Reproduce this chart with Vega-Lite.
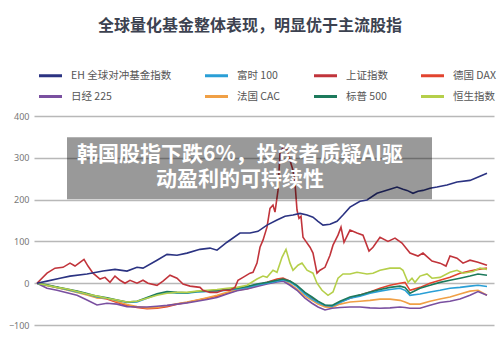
{
  "$schema": "https://vega.github.io/schema/vega-lite/v6.json",
  "width": 460,
  "height": 209,
  "autosize": {"type": "none"},
  "padding": {"left": 34, "top": 116, "right": 6, "bottom": 12},
  "background": "white",
  "title": {
    "text": "全球量化基金整体表现，明显优于主流股指",
    "font": "Noto Sans CJK SC",
    "fontSize": 16,
    "fontWeight": "bold",
    "color": "#3c4250",
    "anchor": "middle",
    "baseline": "bottom",
    "offset": 12,
    "dx": -14
  },
  "config": {"view": {"stroke": null}},
  "datasets": {
    "series": [
      {"s":"德国 DAX","t":0,"v":0},{"s":"德国 DAX","t":10,"v":-5},{"s":"德国 DAX","t":20,"v":-10},{"s":"德国 DAX","t":30,"v":-15},{"s":"德国 DAX","t":40,"v":-20},{"s":"德国 DAX","t":50,"v":-26},{"s":"德国 DAX","t":60,"v":-34},{"s":"德国 DAX","t":70,"v":-38},{"s":"德国 DAX","t":80,"v":-46},{"s":"德国 DAX","t":90,"v":-53},{"s":"德国 DAX","t":100,"v":-58},{"s":"德国 DAX","t":110,"v":-61},{"s":"德国 DAX","t":120,"v":-60},{"s":"德国 DAX","t":130,"v":-56},{"s":"德国 DAX","t":140,"v":-50},{"s":"德国 DAX","t":150,"v":-46},{"s":"德国 DAX","t":160,"v":-41},{"s":"德国 DAX","t":170,"v":-36},{"s":"德国 DAX","t":180,"v":-31},{"s":"德国 DAX","t":190,"v":-24},{"s":"德国 DAX","t":200,"v":-17},{"s":"德国 DAX","t":210,"v":-12},{"s":"德国 DAX","t":220,"v":-5},{"s":"德国 DAX","t":230,"v":2},{"s":"德国 DAX","t":240,"v":10},{"s":"德国 DAX","t":246,"v":12},{"s":"德国 DAX","t":253,"v":5},{"s":"德国 DAX","t":260,"v":-7},{"s":"德国 DAX","t":268,"v":-24},{"s":"德国 DAX","t":275,"v":-36},{"s":"德国 DAX","t":281,"v":-45},{"s":"德国 DAX","t":288,"v":-55},{"s":"德国 DAX","t":295,"v":-57},{"s":"德国 DAX","t":303,"v":-45},{"s":"德国 DAX","t":313,"v":-36},{"s":"德国 DAX","t":323,"v":-28},{"s":"德国 DAX","t":333,"v":-21},{"s":"德国 DAX","t":343,"v":-12},{"s":"德国 DAX","t":353,"v":-5},{"s":"德国 DAX","t":363,"v":0},{"s":"德国 DAX","t":368,"v":2},{"s":"德国 DAX","t":373,"v":-17},{"s":"德国 DAX","t":383,"v":-10},{"s":"德国 DAX","t":393,"v":0},{"s":"德国 DAX","t":403,"v":7},{"s":"德国 DAX","t":413,"v":14},{"s":"德国 DAX","t":423,"v":24},{"s":"德国 DAX","t":433,"v":29},{"s":"德国 DAX","t":441,"v":33},{"s":"德国 DAX","t":450,"v":36},

      {"s":"法国 CAC","t":0,"v":0},{"s":"法国 CAC","t":10,"v":-6},{"s":"法国 CAC","t":20,"v":-11},{"s":"法国 CAC","t":30,"v":-16},{"s":"法国 CAC","t":40,"v":-22},{"s":"法国 CAC","t":50,"v":-28},{"s":"法国 CAC","t":60,"v":-35},{"s":"法国 CAC","t":70,"v":-36},{"s":"法国 CAC","t":80,"v":-44},{"s":"法国 CAC","t":90,"v":-51},{"s":"法国 CAC","t":100,"v":-56},{"s":"法国 CAC","t":110,"v":-59},{"s":"法国 CAC","t":120,"v":-58},{"s":"法国 CAC","t":130,"v":-54},{"s":"法国 CAC","t":140,"v":-49},{"s":"法国 CAC","t":150,"v":-45},{"s":"法国 CAC","t":160,"v":-40},{"s":"法国 CAC","t":170,"v":-35},{"s":"法国 CAC","t":180,"v":-29},{"s":"法国 CAC","t":190,"v":-22},{"s":"法国 CAC","t":200,"v":-16},{"s":"法国 CAC","t":210,"v":-14},{"s":"法国 CAC","t":220,"v":-6},{"s":"法国 CAC","t":230,"v":0},{"s":"法国 CAC","t":240,"v":6},{"s":"法国 CAC","t":246,"v":8},{"s":"法国 CAC","t":253,"v":-2},{"s":"法国 CAC","t":260,"v":-14},{"s":"法国 CAC","t":268,"v":-31},{"s":"法国 CAC","t":275,"v":-41},{"s":"法国 CAC","t":281,"v":-50},{"s":"法国 CAC","t":288,"v":-57},{"s":"法国 CAC","t":295,"v":-58},{"s":"法国 CAC","t":303,"v":-50},{"s":"法国 CAC","t":313,"v":-45},{"s":"法国 CAC","t":323,"v":-43},{"s":"法国 CAC","t":333,"v":-41},{"s":"法国 CAC","t":343,"v":-38},{"s":"法国 CAC","t":353,"v":-38},{"s":"法国 CAC","t":363,"v":-41},{"s":"法国 CAC","t":368,"v":-45},{"s":"法国 CAC","t":373,"v":-50},{"s":"法国 CAC","t":383,"v":-50},{"s":"法国 CAC","t":393,"v":-43},{"s":"法国 CAC","t":403,"v":-38},{"s":"法国 CAC","t":413,"v":-33},{"s":"法国 CAC","t":423,"v":-26},{"s":"法国 CAC","t":433,"v":-19},{"s":"法国 CAC","t":441,"v":-17},{"s":"法国 CAC","t":450,"v":-29},

      {"s":"日经 225","t":0,"v":0},{"s":"日经 225","t":10,"v":-12},{"s":"日经 225","t":20,"v":-17},{"s":"日经 225","t":30,"v":-23},{"s":"日经 225","t":40,"v":-29},{"s":"日经 225","t":50,"v":-40},{"s":"日经 225","t":60,"v":-52},{"s":"日经 225","t":70,"v":-48},{"s":"日经 225","t":80,"v":-50},{"s":"日经 225","t":90,"v":-56},{"s":"日经 225","t":100,"v":-57},{"s":"日经 225","t":110,"v":-57},{"s":"日经 225","t":120,"v":-55},{"s":"日经 225","t":130,"v":-53},{"s":"日经 225","t":140,"v":-50},{"s":"日经 225","t":150,"v":-47},{"s":"日经 225","t":160,"v":-43},{"s":"日经 225","t":170,"v":-39},{"s":"日经 225","t":180,"v":-34},{"s":"日经 225","t":190,"v":-26},{"s":"日经 225","t":200,"v":-18},{"s":"日经 225","t":210,"v":-14},{"s":"日经 225","t":220,"v":-8},{"s":"日经 225","t":230,"v":-2},{"s":"日经 225","t":240,"v":3},{"s":"日经 225","t":246,"v":5},{"s":"日经 225","t":253,"v":-5},{"s":"日经 225","t":260,"v":-17},{"s":"日经 225","t":268,"v":-36},{"s":"日经 225","t":275,"v":-48},{"s":"日经 225","t":281,"v":-57},{"s":"日经 225","t":288,"v":-64},{"s":"日经 225","t":295,"v":-60},{"s":"日经 225","t":303,"v":-58},{"s":"日经 225","t":313,"v":-57},{"s":"日经 225","t":323,"v":-57},{"s":"日经 225","t":333,"v":-59},{"s":"日经 225","t":343,"v":-60},{"s":"日经 225","t":353,"v":-59},{"s":"日经 225","t":363,"v":-57},{"s":"日经 225","t":368,"v":-58},{"s":"日经 225","t":373,"v":-60},{"s":"日经 225","t":383,"v":-60},{"s":"日经 225","t":393,"v":-53},{"s":"日经 225","t":403,"v":-46},{"s":"日经 225","t":413,"v":-43},{"s":"日经 225","t":423,"v":-38},{"s":"日经 225","t":433,"v":-29},{"s":"日经 225","t":441,"v":-20},{"s":"日经 225","t":450,"v":-29},

      {"s":"富时 100","t":0,"v":0},{"s":"富时 100","t":10,"v":-5},{"s":"富时 100","t":20,"v":-10},{"s":"富时 100","t":30,"v":-15},{"s":"富时 100","t":40,"v":-21},{"s":"富时 100","t":50,"v":-26},{"s":"富时 100","t":60,"v":-33},{"s":"富时 100","t":70,"v":-36},{"s":"富时 100","t":80,"v":-41},{"s":"富时 100","t":90,"v":-46},{"s":"富时 100","t":100,"v":-45},{"s":"富时 100","t":110,"v":-36},{"s":"富时 100","t":120,"v":-27},{"s":"富时 100","t":130,"v":-22},{"s":"富时 100","t":140,"v":-24},{"s":"富时 100","t":150,"v":-24},{"s":"富时 100","t":160,"v":-21},{"s":"富时 100","t":170,"v":-20},{"s":"富时 100","t":180,"v":-19},{"s":"富时 100","t":190,"v":-17},{"s":"富时 100","t":200,"v":-14},{"s":"富时 100","t":210,"v":-10},{"s":"富时 100","t":220,"v":-4},{"s":"富时 100","t":230,"v":0},{"s":"富时 100","t":240,"v":5},{"s":"富时 100","t":246,"v":8},{"s":"富时 100","t":253,"v":3},{"s":"富时 100","t":260,"v":-8},{"s":"富时 100","t":268,"v":-26},{"s":"富时 100","t":275,"v":-38},{"s":"富时 100","t":281,"v":-46},{"s":"富时 100","t":288,"v":-53},{"s":"富时 100","t":295,"v":-55},{"s":"富时 100","t":303,"v":-46},{"s":"富时 100","t":313,"v":-36},{"s":"富时 100","t":323,"v":-31},{"s":"富时 100","t":333,"v":-24},{"s":"富时 100","t":343,"v":-19},{"s":"富时 100","t":353,"v":-15},{"s":"富时 100","t":363,"v":-12},{"s":"富时 100","t":368,"v":-17},{"s":"富时 100","t":373,"v":-29},{"s":"富时 100","t":383,"v":-26},{"s":"富时 100","t":393,"v":-21},{"s":"富时 100","t":403,"v":-17},{"s":"富时 100","t":413,"v":-12},{"s":"富时 100","t":423,"v":-10},{"s":"富时 100","t":433,"v":-7},{"s":"富时 100","t":441,"v":-5},{"s":"富时 100","t":450,"v":-8},

      {"s":"标普 500","t":0,"v":0},{"s":"标普 500","t":10,"v":-4},{"s":"标普 500","t":20,"v":-9},{"s":"标普 500","t":30,"v":-14},{"s":"标普 500","t":40,"v":-19},{"s":"标普 500","t":50,"v":-25},{"s":"标普 500","t":60,"v":-31},{"s":"标普 500","t":70,"v":-35},{"s":"标普 500","t":80,"v":-40},{"s":"标普 500","t":90,"v":-45},{"s":"标普 500","t":100,"v":-43},{"s":"标普 500","t":110,"v":-34},{"s":"标普 500","t":120,"v":-25},{"s":"标普 500","t":130,"v":-20},{"s":"标普 500","t":140,"v":-22},{"s":"标普 500","t":150,"v":-23},{"s":"标普 500","t":160,"v":-20},{"s":"标普 500","t":170,"v":-19},{"s":"标普 500","t":180,"v":-17},{"s":"标普 500","t":190,"v":-15},{"s":"标普 500","t":200,"v":-12},{"s":"标普 500","t":210,"v":-8},{"s":"标普 500","t":220,"v":-2},{"s":"标普 500","t":230,"v":2},{"s":"标普 500","t":240,"v":7},{"s":"标普 500","t":246,"v":10},{"s":"标普 500","t":253,"v":5},{"s":"标普 500","t":260,"v":-5},{"s":"标普 500","t":268,"v":-22},{"s":"标普 500","t":275,"v":-33},{"s":"标普 500","t":281,"v":-43},{"s":"标普 500","t":288,"v":-52},{"s":"标普 500","t":295,"v":-53},{"s":"标普 500","t":303,"v":-43},{"s":"标普 500","t":313,"v":-33},{"s":"标普 500","t":323,"v":-28},{"s":"标普 500","t":333,"v":-21},{"s":"标普 500","t":343,"v":-15},{"s":"标普 500","t":353,"v":-10},{"s":"标普 500","t":363,"v":-7},{"s":"标普 500","t":368,"v":-10},{"s":"标普 500","t":373,"v":-24},{"s":"标普 500","t":383,"v":-12},{"s":"标普 500","t":393,"v":-5},{"s":"标普 500","t":403,"v":2},{"s":"标普 500","t":413,"v":7},{"s":"标普 500","t":423,"v":12},{"s":"标普 500","t":433,"v":17},{"s":"标普 500","t":441,"v":22},{"s":"标普 500","t":450,"v":19},

      {"s":"恒生指数","t":0,"v":0},{"s":"恒生指数","t":10,"v":-5},{"s":"恒生指数","t":20,"v":-10},{"s":"恒生指数","t":30,"v":-14},{"s":"恒生指数","t":40,"v":-20},{"s":"恒生指数","t":50,"v":-26},{"s":"恒生指数","t":60,"v":-31},{"s":"恒生指数","t":70,"v":-36},{"s":"恒生指数","t":80,"v":-40},{"s":"恒生指数","t":90,"v":-45},{"s":"恒生指数","t":100,"v":-43},{"s":"恒生指数","t":110,"v":-36},{"s":"恒生指数","t":120,"v":-29},{"s":"恒生指数","t":130,"v":-24},{"s":"恒生指数","t":140,"v":-22},{"s":"恒生指数","t":150,"v":-22},{"s":"恒生指数","t":160,"v":-19},{"s":"恒生指数","t":170,"v":-17},{"s":"恒生指数","t":180,"v":-15},{"s":"恒生指数","t":190,"v":-12},{"s":"恒生指数","t":200,"v":-10},{"s":"恒生指数","t":210,"v":-5},{"s":"恒生指数","t":220,"v":10},{"s":"恒生指数","t":226,"v":17},{"s":"恒生指数","t":230,"v":14},{"s":"恒生指数","t":236,"v":31},{"s":"恒生指数","t":240,"v":26},{"s":"恒生指数","t":245,"v":62},{"s":"恒生指数","t":249,"v":81},{"s":"恒生指数","t":253,"v":48},{"s":"恒生指数","t":256,"v":31},{"s":"恒生指数","t":261,"v":43},{"s":"恒生指数","t":265,"v":48},{"s":"恒生指数","t":270,"v":31},{"s":"恒生指数","t":276,"v":24},{"s":"恒生指数","t":280,"v":0},{"s":"恒生指数","t":285,"v":-17},{"s":"恒生指数","t":291,"v":-29},{"s":"恒生指数","t":296,"v":-21},{"s":"恒生指数","t":301,"v":12},{"s":"恒生指数","t":306,"v":22},{"s":"恒生指数","t":313,"v":22},{"s":"恒生指数","t":320,"v":26},{"s":"恒生指数","t":330,"v":22},{"s":"恒生指数","t":336,"v":24},{"s":"恒生指数","t":343,"v":31},{"s":"恒生指数","t":353,"v":36},{"s":"恒生指数","t":363,"v":36},{"s":"恒生指数","t":366,"v":31},{"s":"恒生指数","t":371,"v":2},{"s":"恒生指数","t":375,"v":12},{"s":"恒生指数","t":378,"v":2},{"s":"恒生指数","t":383,"v":17},{"s":"恒生指数","t":390,"v":22},{"s":"恒生指数","t":395,"v":12},{"s":"恒生指数","t":403,"v":14},{"s":"恒生指数","t":413,"v":26},{"s":"恒生指数","t":420,"v":31},{"s":"恒生指数","t":426,"v":24},{"s":"恒生指数","t":436,"v":28},{"s":"恒生指数","t":443,"v":36},{"s":"恒生指数","t":450,"v":33},

      {"s":"上证指数","t":0,"v":0},{"s":"上证指数","t":10,"v":24},{"s":"上证指数","t":18,"v":36},{"s":"上证指数","t":26,"v":38},{"s":"上证指数","t":33,"v":48},{"s":"上证指数","t":38,"v":41},{"s":"上证指数","t":43,"v":50},{"s":"上证指数","t":47,"v":57},{"s":"上证指数","t":51,"v":41},{"s":"上证指数","t":56,"v":24},{"s":"上证指数","t":63,"v":10},{"s":"上证指数","t":68,"v":14},{"s":"上证指数","t":73,"v":2},{"s":"上证指数","t":78,"v":17},{"s":"上证指数","t":83,"v":7},{"s":"上证指数","t":88,"v":0},{"s":"上证指数","t":93,"v":7},{"s":"上证指数","t":100,"v":0},{"s":"上证指数","t":106,"v":7},{"s":"上证指数","t":111,"v":0},{"s":"上证指数","t":120,"v":-5},{"s":"上证指数","t":126,"v":5},{"s":"上证指数","t":133,"v":19},{"s":"上证指数","t":140,"v":12},{"s":"上证指数","t":146,"v":-2},{"s":"上证指数","t":153,"v":-7},{"s":"上证指数","t":163,"v":-10},{"s":"上证指数","t":166,"v":-17},{"s":"上证指数","t":173,"v":-22},{"s":"上证指数","t":180,"v":-22},{"s":"上证指数","t":186,"v":-17},{"s":"上证指数","t":193,"v":-17},{"s":"上证指数","t":198,"v":-10},{"s":"上证指数","t":201,"v":7},{"s":"上证指数","t":206,"v":14},{"s":"上证指数","t":213,"v":24},{"s":"上证指数","t":216,"v":26},{"s":"上证指数","t":220,"v":48},{"s":"上证指数","t":223,"v":86},{"s":"上证指数","t":226,"v":103},{"s":"上证指数","t":230,"v":134},{"s":"上证指数","t":233,"v":179},{"s":"上证指数","t":236,"v":187},{"s":"上证指数","t":238,"v":170},{"s":"上证指数","t":241,"v":222},{"s":"上证指数","t":243,"v":311},{"s":"上证指数","t":246,"v":325},{"s":"上证指数","t":250,"v":320},{"s":"上证指数","t":253,"v":294},{"s":"上证指数","t":256,"v":270},{"s":"上证指数","t":258,"v":239},{"s":"上证指数","t":260,"v":175},{"s":"上证指数","t":262,"v":155},{"s":"上证指数","t":264,"v":160},{"s":"上证指数","t":266,"v":110},{"s":"上证指数","t":268,"v":103},{"s":"上证指数","t":273,"v":86},{"s":"上证指数","t":276,"v":72},{"s":"上证指数","t":280,"v":24},{"s":"上证指数","t":283,"v":31},{"s":"上证指数","t":288,"v":38},{"s":"上证指数","t":293,"v":67},{"s":"上证指数","t":296,"v":91},{"s":"上证指数","t":301,"v":115},{"s":"上证指数","t":304,"v":134},{"s":"上证指数","t":307,"v":98},{"s":"上证指数","t":313,"v":127},{"s":"上证指数","t":320,"v":120},{"s":"上证指数","t":326,"v":115},{"s":"上证指数","t":332,"v":77},{"s":"上证指数","t":336,"v":86},{"s":"上证指数","t":343,"v":110},{"s":"上证指数","t":351,"v":100},{"s":"上证指数","t":358,"v":108},{"s":"上证指数","t":365,"v":96},{"s":"上证指数","t":373,"v":72},{"s":"上证指数","t":381,"v":65},{"s":"上证指数","t":386,"v":72},{"s":"上证指数","t":395,"v":53},{"s":"上证指数","t":403,"v":48},{"s":"上证指数","t":409,"v":41},{"s":"上证指数","t":413,"v":65},{"s":"上证指数","t":420,"v":60},{"s":"上证指数","t":426,"v":48},{"s":"上证指数","t":433,"v":55},{"s":"上证指数","t":441,"v":50},{"s":"上证指数","t":450,"v":43},

      {"s":"EH 全球对冲基金指数","t":0,"v":0},{"s":"EH 全球对冲基金指数","t":10,"v":5},{"s":"EH 全球对冲基金指数","t":23,"v":12},{"s":"EH 全球对冲基金指数","t":33,"v":17},{"s":"EH 全球对冲基金指数","t":50,"v":22},{"s":"EH 全球对冲基金指数","t":66,"v":29},{"s":"EH 全球对冲基金指数","t":78,"v":33},{"s":"EH 全球对冲基金指数","t":90,"v":29},{"s":"EH 全球对冲基金指数","t":100,"v":38},{"s":"EH 全球对冲基金指数","t":106,"v":36},{"s":"EH 全球对冲基金指数","t":120,"v":55},{"s":"EH 全球对冲基金指数","t":130,"v":69},{"s":"EH 全球对冲基金指数","t":140,"v":67},{"s":"EH 全球对冲基金指数","t":150,"v":72},{"s":"EH 全球对冲基金指数","t":163,"v":81},{"s":"EH 全球对冲基金指数","t":173,"v":84},{"s":"EH 全球对冲基金指数","t":180,"v":79},{"s":"EH 全球对冲基金指数","t":190,"v":98},{"s":"EH 全球对冲基金指数","t":203,"v":120},{"s":"EH 全球对冲基金指数","t":213,"v":120},{"s":"EH 全球对冲基金指数","t":221,"v":124},{"s":"EH 全球对冲基金指数","t":230,"v":139},{"s":"EH 全球对冲基金指数","t":240,"v":151},{"s":"EH 全球对冲基金指数","t":248,"v":160},{"s":"EH 全球对冲基金指数","t":256,"v":163},{"s":"EH 全球对冲基金指数","t":263,"v":167},{"s":"EH 全球对冲基金指数","t":270,"v":163},{"s":"EH 全球对冲基金指数","t":276,"v":158},{"s":"EH 全球对冲基金指数","t":281,"v":148},{"s":"EH 全球对冲基金指数","t":286,"v":139},{"s":"EH 全球对冲基金指数","t":293,"v":141},{"s":"EH 全球对冲基金指数","t":300,"v":148},{"s":"EH 全球对冲基金指数","t":306,"v":163},{"s":"EH 全球对冲基金指数","t":313,"v":182},{"s":"EH 全球对冲基金指数","t":323,"v":196},{"s":"EH 全球对冲基金指数","t":330,"v":199},{"s":"EH 全球对冲基金指数","t":340,"v":215},{"s":"EH 全球对冲基金指数","t":353,"v":225},{"s":"EH 全球对冲基金指数","t":360,"v":230},{"s":"EH 全球对冲基金指数","t":366,"v":225},{"s":"EH 全球对冲基金指数","t":370,"v":222},{"s":"EH 全球对冲基金指数","t":376,"v":215},{"s":"EH 全球对冲基金指数","t":381,"v":220},{"s":"EH 全球对冲基金指数","t":386,"v":222},{"s":"EH 全球对冲基金指数","t":393,"v":227},{"s":"EH 全球对冲基金指数","t":400,"v":230},{"s":"EH 全球对冲基金指数","t":410,"v":235},{"s":"EH 全球对冲基金指数","t":420,"v":242},{"s":"EH 全球对冲基金指数","t":433,"v":246},{"s":"EH 全球对冲基金指数","t":443,"v":256},{"s":"EH 全球对冲基金指数","t":450,"v":263}
    ],
    "banner": [{"t": 30, "t2": 395, "v": 201, "v2": 349}],
    "caption": [
      {"t": 203, "v": 306, "label": "韩国股指下跌6%，投资者质疑AI驱"},
      {"t": 203, "v": 246, "label": "动盈利的可持续性"}
    ]
  },
  "layer": [
    {
      "data": {"name": "series"},
      "mark": {"type": "line", "strokeWidth": 1.6},
      "encoding": {
        "x": {"field": "t", "type": "quantitative", "scale": {"domain": [-3, 457], "nice": false, "zero": false}, "axis": null},
        "y": {
          "field": "v", "type": "quantitative",
          "scale": {"domain": [-100, 400], "nice": false},
          "axis": {
            "title": null, "values": [-100, -50, 0, 50, 100, 150, 200, 250, 300, 350, 400],
            "domain": false, "ticks": false, "labelPadding": 5,
            "labelFont": "Noto Sans", "labelFontSize": 9, "labelColor": "#777777",
            "gridColor": "#b8b8b8", "gridWidth": 1.5
          }
        },
        "color": {
          "field": "s", "type": "nominal",
          "scale": {
            "domain": ["EH 全球对冲基金指数", "富时 100", "上证指数", "德国 DAX", "日经 225", "法国 CAC", "标普 500", "恒生指数"],
            "range": ["#2b3382", "#2a9fd6", "#c1343b", "#e2442f", "#7a50a0", "#f0a046", "#1d7a5c", "#b5cf4a"]
          },
          "legend": {
            "title": null, "orient": "none", "legendX": 3, "legendY": -54,
            "direction": "horizontal", "columns": 4, "gridAlign": "each",
            "columnPadding": 26, "rowPadding": 1, "padding": 0,
            "symbolType": "stroke", "symbolSize": 530, "symbolStrokeWidth": 3,
            "labelFont": "Noto Sans CJK SC", "labelFontSize": 10.5, "labelColor": "#555555", "labelOffset": 7
          }
        }
      }
    },
    {
      "data": {"name": "banner"},
      "mark": {"type": "rect", "color": "#000000", "opacity": 0.4},
      "encoding": {
        "x": {"field": "t", "type": "quantitative", "scale": {"domain": [-3, 457], "nice": false, "zero": false}, "axis": null},
        "x2": {"field": "t2"},
        "y": {"field": "v", "type": "quantitative", "scale": {"domain": [-100, 400], "nice": false}, "axis": {"title": null}},
        "y2": {"field": "v2"}
      }
    },
    {
      "data": {"name": "caption"},
      "mark": {"type": "text", "color": "white", "font": "Noto Sans CJK SC", "fontSize": 21, "fontWeight": "bold", "align": "center", "baseline": "middle"},
      "encoding": {
        "x": {"field": "t", "type": "quantitative", "scale": {"domain": [-3, 457], "nice": false, "zero": false}, "axis": null},
        "y": {"field": "v", "type": "quantitative", "scale": {"domain": [-100, 400], "nice": false}, "axis": {"title": null}},
        "text": {"field": "label"}
      }
    }
  ]
}
